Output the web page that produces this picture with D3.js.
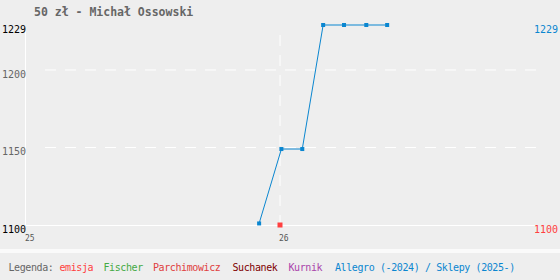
<!DOCTYPE html>
<html>
<head>
<meta charset="utf-8">
<script src="https://cdn.jsdelivr.net/npm/d3@7"></script>
<style>
  body { margin: 0; background: #eeeeee; }
  svg { display: block; }
  text { font-family: "DejaVu Sans Mono", monospace; }
</style>
</head>
<body>
<svg id="chart" width="560" height="280"></svg>
<script>
var title = "50 zł - Michał Ossowski";

// Allegro / Sklepy prices
var allegroDates = ["2025-12-02", "2026-01-03", "2026-02-02", "2026-03-04", "2026-04-03", "2026-05-05", "2026-06-04"];
var allegroValues = [1101, 1149, 1149, 1229, 1229, 1229, 1229];

// emisja (issue price)
var emisjaDates = ["2026-01-01"];
var emisjaValues = [1100];

var yTicks = [1100, 1150, 1200, 1229];
var yGrid = [1150, 1200];
var xTicks = ["2025-01-01", "2026-01-01"];
var xTickLabels = ["25", "26"];

var legendNames = ["emisja", "Fischer", "Parchimowicz", "Suchanek", "Kurnik", "Allegro (-2024) / Sklepy (2025-)"];
var legendColors = ["#ff4040", "#44aa44", "#e04040", "#800000", "#aa44aa", "#0a86d0"];

var parse = d3.timeParse("%Y-%m-%d");
var svg = d3.select("#chart");

var x = d3.scaleTime()
    .domain([parse("2025-01-01"), parse("2027-01-01")])
    .range([26, 534]);
var y = d3.scaleLinear()
    .domain([1100, 1229])
    .range([225, 25]);

svg.append("rect").attr("x", 0).attr("y", 0).attr("width", 560).attr("height", 280).style("fill", "#eeeeee");
svg.append("rect").attr("x", 0).attr("y", 249).attr("width", 560).attr("height", 4).style("fill", "#fafafa");

// title
svg.append("text")
    .attr("x", 34)
    .attr("y", 16)
    .style("font-size", "11.5px")
    .style("font-weight", "bold")
    .style("fill", "#666")
    .text(title);

// grid
svg.selectAll(".hgrid")
    .data(yGrid)
    .enter().append("line")
    .attr("x1", 45)
    .attr("x2", 536)
    .attr("y1", function (d) { return y(d); })
    .attr("y2", function (d) { return y(d); })
    .style("stroke", "#fff")
    .style("stroke-dasharray", "11,9");

svg.selectAll(".vgrid")
    .data(xTicks.slice(1))
    .enter().append("line")
    .attr("x1", function (d) { return x(parse(d)); })
    .attr("x2", function (d) { return x(parse(d)); })
    .attr("y1", 35)
    .attr("y2", y(1100))
    .style("stroke", "#fff")
    .style("stroke-dasharray", "11,9");

// axes lines
svg.append("line")
    .attr("x1", x(parse("2025-01-01")) - 0.5).attr("x2", x(parse("2025-01-01")) - 0.5)
    .attr("y1", 30).attr("y2", y(1100))
    .style("stroke", "#fff");
svg.append("line")
    .attr("x1", 26).attr("x2", 536)
    .attr("y1", y(1100) + 0.5).attr("y2", y(1100) + 0.5)
    .style("stroke", "#fff");

// left labels
svg.selectAll(".ylab")
    .data(yTicks)
    .enter().append("text")
    .attr("x", 26)
    .attr("y", function (d) { return y(d) + 8; })
    .attr("text-anchor", "end")
    .style("font-size", "10px")
    .style("fill", function (d) { return (d == 1100 || d == 1229) ? "#000" : "#666"; })
    .text(function (d) { return d; });

// right labels
svg.append("text")
    .attr("x", 558).attr("y", y(1229) + 7.5)
    .attr("text-anchor", "end")
    .style("font-size", "10px")
    .style("fill", "#0a86d0")
    .text(d3.max(allegroValues));
svg.append("text")
    .attr("x", 558).attr("y", y(1100) + 8)
    .attr("text-anchor", "end")
    .style("font-size", "10px")
    .style("fill", "#ff4040")
    .text(d3.min(emisjaValues));

// x labels
svg.selectAll(".xlab")
    .data(xTicks)
    .enter().append("text")
    .attr("x", function (d) { return x(parse(d)) - 1; })
    .attr("y", 241)
    .style("font-size", "8px")
    .style("fill", "#555")
    .text(function (d, i) { return xTickLabels[i]; });

// allegro line
var pts = allegroDates.map(function (d, i) { return [parse(d), allegroValues[i]]; });
var line = d3.line()
    .x(function (d) { return x(d[0]); })
    .y(function (d) { return y(d[1]); });

svg.append("path")
    .datum(pts)
    .attr("d", line)
    .style("fill", "none")
    .style("stroke", "#0a86d0")
    .style("stroke-width", 1);

svg.selectAll(".apt")
    .data(pts)
    .enter().append("rect")
    .attr("x", function (d) { return x(d[0]) - 2; })
    .attr("y", function (d) { return y(d[1]) - 2; })
    .attr("width", 4)
    .attr("height", 4)
    .style("fill", "#0a86d0");

// emisja
svg.selectAll(".ept")
    .data(emisjaDates)
    .enter().append("rect")
    .attr("x", function (d) { return x(parse(d)) - 2.5; })
    .attr("y", function (d, i) { return y(emisjaValues[i]) - 2.5; })
    .attr("width", 5)
    .attr("height", 5)
    .style("fill", "#ff4040");

// legend
var legendX = [59.5, 103.5, 153, 232.5, 288.5, 335];
svg.append("text")
    .attr("x", 8.5).attr("y", 270.5)
    .style("font-size", "10px")
    .style("letter-spacing", "-0.4px")
    .style("fill", "#666")
    .text("Legenda:");
svg.selectAll(".leg")
    .data(legendNames)
    .enter().append("text")
    .attr("x", function (d, i) { return legendX[i]; })
    .attr("y", 270.5)
    .style("font-size", "10px")
    .style("letter-spacing", "-0.4px")
    .style("fill", function (d, i) { return legendColors[i]; })
    .text(function (d) { return d; });
</script>
</body>
</html>
